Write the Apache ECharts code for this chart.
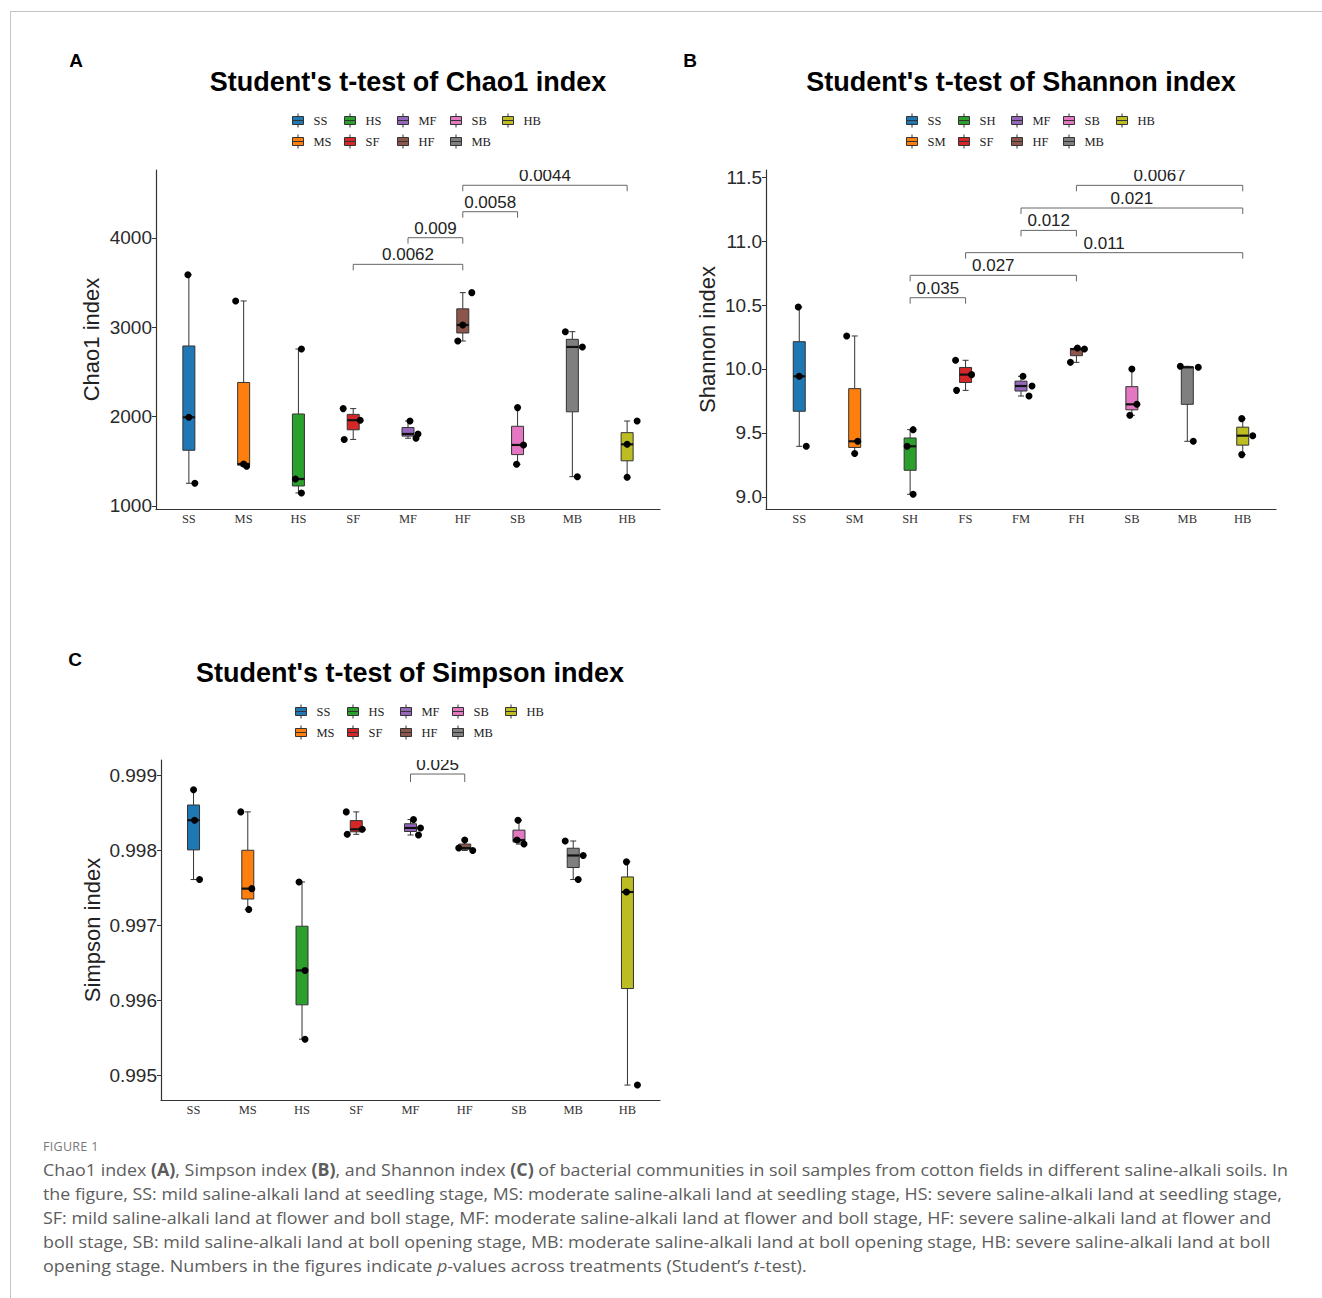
<!DOCTYPE html>
<html>
<head>
<meta charset="utf-8">
<script src="https://cdn.jsdelivr.net/npm/echarts@6/dist/echarts.min.js"></script>
<style>
  html, body { margin: 0; padding: 0; background: #fff; }
  #frame { position: absolute; left: 10px; top: 11px; width: 1312px; height: 1287px;
           border-top: 1.5px solid #c4c4c4; border-left: 1.5px solid #c4c4c4; box-sizing: border-box; }
  #chart { position: absolute; left: 0; top: 0; width: 1322px; height: 1298px; }
  .cap { position: absolute; left: 43px; white-space: nowrap; transform-origin: 0 50%;
         font-family: "Open Sans", "Noto Sans", sans-serif; color: #5d5d5d; font-size: 17px; line-height: 24px; }
  .fig { position: absolute; left: 43px; top: 1139px; font-family: "Open Sans", sans-serif;
         font-size: 12.5px; color: #777; letter-spacing: 0.3px; line-height: 16px; }
</style>
</head>
<body>
<div id="frame"></div>
<div id="chart"></div>
<div class="fig">FIGURE 1</div>
<div class="cap" data-w="1245" style="top:1158px">Chao1 index <b>(A)</b>, Simpson index <b>(B)</b>, and Shannon index <b>(C)</b> of bacterial communities in soil samples from cotton fields in different saline-alkali soils. In</div>
<div class="cap" data-w="1239" style="top:1182px">the figure, SS: mild saline-alkali land at seedling stage, MS: moderate saline-alkali land at seedling stage, HS: severe saline-alkali land at seedling stage,</div>
<div class="cap" data-w="1228" style="top:1206px">SF: mild saline-alkali land at flower and boll stage, MF: moderate saline-alkali land at flower and boll stage, HF: severe saline-alkali land at flower and</div>
<div class="cap" data-w="1227" style="top:1230px">boll stage, SB: mild saline-alkali land at boll opening stage, MB: moderate saline-alkali land at boll opening stage, HB: severe saline-alkali land at boll</div>
<div class="cap" data-w="764" style="top:1254px">opening stage. Numbers in the figures indicate <i>p</i>-values across treatments (Student’s <i>t</i>-test).</div>
<script>
// ---------------- DATA ----------------
const catsA = ['SS','MS','HS','SF','MF','HF','SB','MB','HB'];
const catsB = ['SS','SM','SH','FS','FM','FH','SB','MB','HB'];
const catsC = ['SS','MS','HS','SF','MF','HF','SB','MB','HB'];
const legendA = ['SS','MS','HS','SF','MF','HF','SB','MB','HB'];
const legendB = ['SS','SM','SH','SF','MF','HF','SB','MB','HB'];
const legendC = ['SS','MS','HS','SF','MF','HF','SB','MB','HB'];

// Chao1 index samples (3 per group)
const chao1 = [
  [3589, 1993, 1254],
  [3295, 1470, 1444],
  [2757, 1302, 1146],
  [2090, 1960, 1745],
  [1951, 1806, 1758],
  [2847, 3026, 3388],
  [2101, 1683, 1467],
  [2951, 2780, 1328],
  [1690, 1951, 1321]
];
// Shannon index samples
const shannon = [
  [10.484, 9.943, 9.396],
  [10.258, 9.435, 9.339],
  [9.526, 9.396, 9.021],
  [10.068, 9.956, 9.833],
  [9.943, 9.867, 9.789],
  [10.052, 10.164, 10.156],
  [10.000, 9.724, 9.638],
  [10.021, 10.013, 9.435],
  [9.612, 9.479, 9.331]
];
// Simpson index samples
const simpson = [
  [0.998803, 0.998397, 0.997606],
  [0.998508, 0.997485, 0.997208],
  [0.997574, 0.996394, 0.995478],
  [0.998508, 0.998209, 0.998276],
  [0.998406, 0.998294, 0.998200],
  [0.998026, 0.998133, 0.997994],
  [0.998397, 0.998133, 0.998079],
  [0.998120, 0.997927, 0.997606],
  [0.997842, 0.997440, 0.994866]
];

// Significance brackets (from group, to group, bracket height, p-value)
const bracketFromA = ['SF','MF','HF','HF'];
const bracketToA   = ['HF','HF','SB','HB'];
const bracketYA    = [3705, 4003, 4294, 4590];
const bracketPA    = ['0.0062','0.009','0.0058','0.0044'];

const bracketFromB = ['SH','SH','FS','FM','FM','FH'];
const bracketToB   = ['FS','FH','HB','FH','HB','HB'];
const bracketYB    = [10.557, 10.732, 10.909, 11.083, 11.258, 11.435];
const bracketPB    = ['0.035','0.027','0.011','0.012','0.021','0.0067'];

const bracketFromC = ['MF'];
const bracketToC   = ['HF'];
const bracketYC    = [0.999013];
const bracketPC    = ['0.025'];

// Tick labels
const ticksA = [1000, 2000, 3000, 4000];
const ticksB = [9.0, 9.5, 10.0, 10.5, 11.0, 11.5];
const ticksC = [0.995, 0.996, 0.997, 0.998, 0.999];

// ---------------- LAYOUT / STYLE ----------------
// horizontal jitter of the sample points, in pixels
const jitterA = [[-1,0,6],[-8,0,3],[3,-3,3],[-10,7,-9],[2,10,8],[-5,0,9],[0,6,-1],[-7,10,5],[0,10,0]];
const jitterB = [[-1,0,7],[-8,3,0],[3,-3,3],[-10,6,-9],[2,11,8],[-6,1,8],[0,5,-2],[-7,11,6],[-1,10,-1]];
const jitterC = [[0,1,6],[-7,4,1],[-3,3,3],[-10,-9,6],[3,10,8],[-6,0,8],[-1,-2,5],[-8,10,5],[-1,-1,10]];

const COLORS = ['#1F77B4','#FF7F0E','#2CA02C','#D62728','#9467BD','#8C564B','#E377C2','#7F7F7F','#BCBD22'];
const AXIS = '#333';
const SANS = '"Liberation Sans", Arial, sans-serif';
const SERIF = '"Liberation Serif", "Times New Roman", serif';

function quantile(sorted, p) {
  const h = (sorted.length - 1) * p;
  const lo = Math.floor(h);
  const e = h - lo;
  return e ? sorted[lo] + e * (sorted[lo + 1] - sorted[lo]) : sorted[lo];
}

function boxRender(params, api) {
  const i = api.value(0);
  const P = k => api.coord([i, api.value(k)]);
  const pMin = P(1), pQ1 = P(2), pMed = P(3), pQ3 = P(4), pMax = P(5);
  const cx = pMin[0], hw = 6, cw = 3;
  const st = { stroke: AXIS, lineWidth: 1 };
  return { type: 'group', children: [
    { type: 'line', shape: { x1: cx, y1: pMax[1], x2: cx, y2: pQ3[1] }, style: st },
    { type: 'line', shape: { x1: cx, y1: pQ1[1], x2: cx, y2: pMin[1] }, style: st },
    { type: 'line', shape: { x1: cx - cw, y1: pMax[1], x2: cx + cw, y2: pMax[1] }, style: st },
    { type: 'line', shape: { x1: cx - cw, y1: pMin[1], x2: cx + cw, y2: pMin[1] }, style: st },
    { type: 'rect', shape: { x: cx - hw, y: pQ3[1], width: 2 * hw, height: pQ1[1] - pQ3[1] },
      style: { fill: api.visual('color'), stroke: AXIS, lineWidth: 1 } },
    { type: 'line', shape: { x1: cx - hw, y1: pMed[1], x2: cx + hw, y2: pMed[1] },
      style: { stroke: '#111', lineWidth: 2.2 } }
  ]};
}

function makeBracketRender(labels, drop) {
  return function (params, api) {
    const a = api.coord([api.value(0), api.value(2)]);
    const b = api.coord([api.value(1), api.value(2)]);
    const y = a[1];
    return { type: 'group', children: [
      { type: 'polyline', shape: { points: [[a[0], y + drop], [a[0], y], [b[0], y], [b[0], y + drop]] },
        style: { stroke: '#666', lineWidth: 1, fill: null } },
      { type: 'text', x: (a[0] + b[0]) / 2, y: y - 1,
        style: { text: labels[params.dataIndex], font: '17px ' + SANS, fill: '#222', align: 'center', verticalAlign: 'bottom' } }
    ]};
  };
}

const grids = [], xAxes = [], yAxes = [], series = [], legends = [];

function buildPanel(cfg) {
  const gi = grids.length;
  grids.push({ left: cfg.left, top: cfg.top, width: cfg.width, height: cfg.height, containLabel: false });
  xAxes.push({
    gridIndex: gi, type: 'value', min: -0.6, max: 8.6,
    axisLine: { show: true, onZero: false, lineStyle: { color: AXIS, width: 1.2 } },
    axisTick: { show: false },
    splitLine: { show: false },
    axisLabel: { customValues: cfg.cats.map((c, i) => i), formatter: v => cfg.cats[Math.round(v)],
                 fontFamily: SERIF, fontSize: 12.5, color: '#333', margin: 3 }
  });
  yAxes.push({
    gridIndex: gi, type: 'value', min: cfg.ymin, max: cfg.ymax,
    name: cfg.yname, nameLocation: 'middle', nameGap: cfg.nameGap,
    nameTextStyle: { fontFamily: SANS, fontSize: 22, color: '#222' },
    axisLine: { show: true, onZero: false, lineStyle: { color: AXIS, width: 1.2 } },
    axisTick: { show: true, length: 4, customValues: cfg.ticks, lineStyle: { color: AXIS } },
    splitLine: { show: false },
    axisLabel: { customValues: cfg.ticks, formatter: v => cfg.fmt(v),
                 fontFamily: SANS, fontSize: 19, color: '#2a2a2a', margin: 4 }
  });
  cfg.cats.forEach((c, i) => {
    const s = cfg.samples[i].slice().sort((a, b) => a - b);
    series.push({
      type: 'custom', name: cfg.legendNames[i], xAxisIndex: gi, yAxisIndex: gi, z: 2,
      itemStyle: { color: COLORS[i] }, renderItem: boxRender, silent: true,
      encode: { x: 0, y: [1, 2, 3, 4, 5] },
      data: [[i, s[0], quantile(s, 0.25), quantile(s, 0.5), quantile(s, 0.75), s[s.length - 1]]]
    });
  });
  const pts = [];
  cfg.samples.forEach((arr, i) => arr.forEach((v, k) => {
    pts.push({ value: [i, v], symbolOffset: [cfg.jitter[i][k], 0] });
  }));
  series.push({ type: 'scatter', xAxisIndex: gi, yAxisIndex: gi, z: 4, silent: true,
                symbol: 'circle', symbolSize: 7, itemStyle: { color: '#000', opacity: 1 }, data: pts });
  series.push({
    type: 'custom', xAxisIndex: gi, yAxisIndex: gi, z: 5, clip: true, silent: true,
    renderItem: makeBracketRender(cfg.bp, cfg.drop),
    encode: { x: [0, 1], y: 2 },
    data: cfg.bf.map((f, k) => [cfg.cats.indexOf(f), cfg.cats.indexOf(cfg.bt[k]), cfg.by[k]])
  });
  // legend: 5 columns x 2 rows
  for (let c = 0; c < 5; c++) {
    const names = cfg.legendNames.slice(2 * c, 2 * c + 2).filter(n => n);
    legends.push({
      orient: 'vertical', left: cfg.legLeft[c], top: cfg.legTop, padding: 0,
      itemWidth: 11, itemHeight: 14, itemGap: 6, selectedMode: false,
      icon: 'path://M5.5,0L5.5,3M0,3L11,3L11,11L0,11ZM0,7L11,7M5.5,11L5.5,14',
      itemStyle: { borderColor: '#333', borderWidth: 1 },
      textStyle: { fontFamily: SERIF, fontSize: 12.5, color: '#222', padding: [0, 0, 0, 5] },
      data: names
    });
  }
}

buildPanel({ left: 156, top: 170, width: 504, height: 339, cats: catsA, legendNames: legendA,
  samples: chao1, jitter: jitterA, ymin: 966, ymax: 4761, ticks: ticksA, fmt: v => String(v),
  yname: 'Chao1 index', nameGap: 54,
  bf: bracketFromA, bt: bracketToA, by: bracketYA, bp: bracketPA, drop: 6,
  legLeft: [292, 344, 397, 450, 502], legTop: 113 });

buildPanel({ left: 766, top: 170, width: 510, height: 339, cats: catsB, legendNames: legendB,
  samples: shannon, jitter: jitterB, ymin: 8.906, ymax: 11.555, ticks: ticksB, fmt: v => v.toFixed(1),
  yname: 'Shannon index', nameGap: 48,
  bf: bracketFromB, bt: bracketToB, by: bracketYB, bp: bracketPB, drop: 6,
  legLeft: [906, 958, 1011, 1063, 1116], legTop: 113 });

buildPanel({ left: 161, top: 760, width: 499, height: 340, cats: catsC, legendNames: legendC,
  samples: simpson, jitter: jitterC, ymin: 0.994667, ymax: 0.9992, ticks: ticksC, fmt: v => v.toFixed(3),
  yname: 'Simpson index', nameGap: 58,
  bf: bracketFromC, bt: bracketToC, by: bracketYC, bp: bracketPC, drop: 8,
  legLeft: [295, 347, 400, 452, 505], legTop: 704 });

const titleFont = 'bold 27px ' + SANS;
const letterFont = 'bold 19px ' + SANS;
const graphics = [
  { type: 'text', x: 408, y: 82, style: { text: "Student's t-test of Chao1 index", font: titleFont, fill: '#000', align: 'center', verticalAlign: 'middle' } },
  { type: 'text', x: 1021, y: 82, style: { text: "Student's t-test of Shannon index", font: titleFont, fill: '#000', align: 'center', verticalAlign: 'middle' } },
  { type: 'text', x: 410, y: 673, style: { text: "Student's t-test of Simpson index", font: titleFont, fill: '#000', align: 'center', verticalAlign: 'middle' } },
  { type: 'text', x: 76, y: 60, style: { text: 'A', font: letterFont, fill: '#000', align: 'center', verticalAlign: 'middle' } },
  { type: 'text', x: 690, y: 60, style: { text: 'B', font: letterFont, fill: '#000', align: 'center', verticalAlign: 'middle' } },
  { type: 'text', x: 75, y: 659, style: { text: 'C', font: letterFont, fill: '#000', align: 'center', verticalAlign: 'middle' } }
];

const chart = echarts.init(document.getElementById('chart'), null, { renderer: 'svg' });
chart.setOption({
  animation: false,
  backgroundColor: 'transparent',
  grid: grids, xAxis: xAxes, yAxis: yAxes, series: series, legend: legends, graphic: graphics
});

// fit caption lines to the reference line widths
document.querySelectorAll('.cap').forEach(el => {
  const target = +el.dataset.w;
  const w = el.scrollWidth;
  if (w > 0) el.style.transform = 'scaleX(' + (target / w) + ')';
});
</script>
</body>
</html>
